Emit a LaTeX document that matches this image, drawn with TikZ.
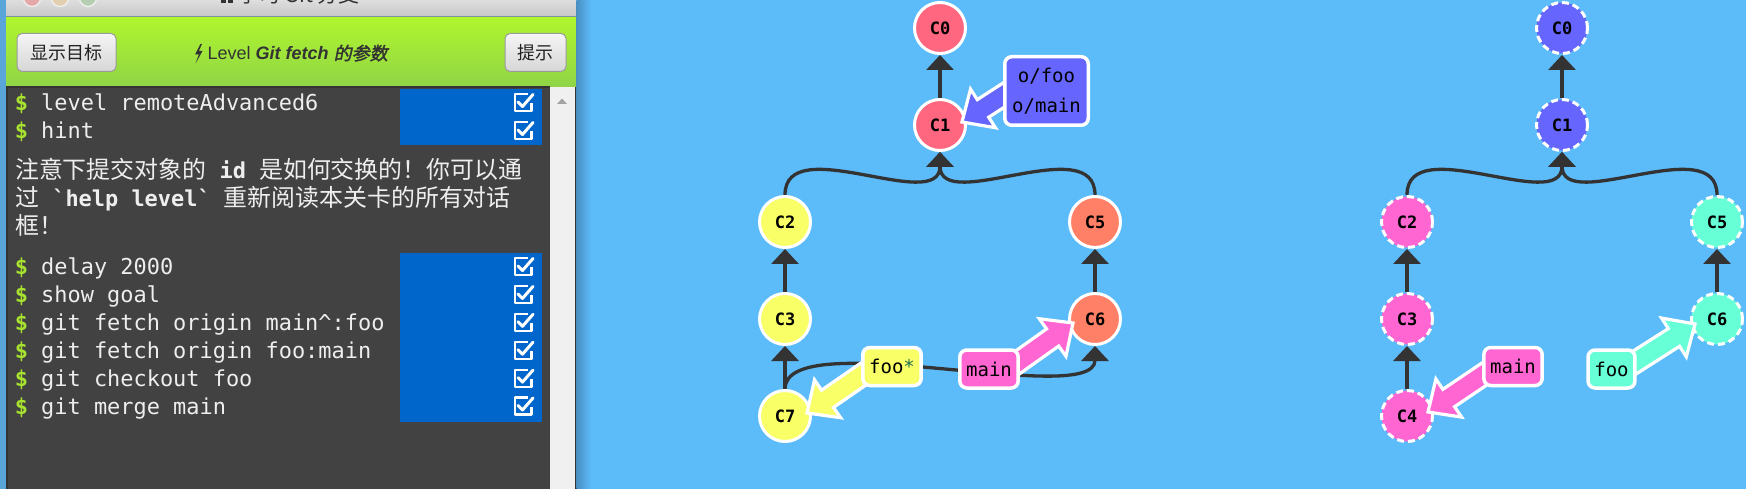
\documentclass[tikz,border=0pt]{standalone}
\usepackage{fontspec}
\setmainfont{Liberation Sans}
\setmonofont{DejaVu Sans Mono}
\newfontfamily\cjk{Noto Sans CJK SC}
\newfontfamily\cjkbi{Noto Sans CJK SC}[FakeSlant=0.2,FakeBold=2]
\usetikzlibrary{calc,arrows.meta}

\definecolor{bgblue}{HTML}{5CBBF9}
\definecolor{leftstrip}{HTML}{5AA5DA}
\definecolor{titletop}{HTML}{DEDEDE}
\definecolor{titlebot}{HTML}{C6C6C6}
\definecolor{titleline}{HTML}{7E919C}
\definecolor{titletext}{HTML}{333333}
\definecolor{tlred}{HTML}{E5A8A8}
\definecolor{tlyel}{HTML}{E2CFB0}
\definecolor{tlgrn}{HTML}{B5CFB0}
\definecolor{tlring}{HTML}{F2F2F2}
\definecolor{gtop}{HTML}{B0F62E}
\definecolor{gbot}{HTML}{8FD446}
\definecolor{console}{HTML}{424242}
\definecolor{consoleedge}{HTML}{333333}
\definecolor{scrollbg}{HTML}{F0F0F0}
\definecolor{scrollarrow}{HTML}{A3A3A3}
\definecolor{shadowL}{HTML}{4A90C2}
\definecolor{hl}{HTML}{0066CC}
\definecolor{dollar}{HTML}{A6E22E}
\definecolor{ctext}{HTML}{EEEEEE}
\definecolor{btnborder}{HTML}{9B9B9B}
\definecolor{btntop}{HTML}{F5F5F5}
\definecolor{btnbot}{HTML}{D6D6D6}
\definecolor{edgecol}{HTML}{333333}
\definecolor{cred}{HTML}{FF6680}
\definecolor{cyel}{HTML}{F9FF66}
\definecolor{csal}{HTML}{FF8066}
\definecolor{cblue}{HTML}{6666FF}
\definecolor{cpink}{HTML}{FF66D2}
\definecolor{caqua}{HTML}{66FFD6}
\definecolor{starcol}{HTML}{1E6E50}

\pgfdeclarelayer{bg}
\pgfdeclarelayer{edges}
\pgfdeclarelayer{arrows}
\pgfdeclarelayer{labels}
\pgfsetlayers{bg,edges,main,arrows,labels}

\tikzset{
  cline/.style={anchor=base west, inner sep=0pt, text=ctext,
    font=\ttfamily\fontsize{21.93}{26}\selectfont},
  btn/.style={draw=btnborder, line width=1pt, rounded corners=5pt,
    top color=btntop, bottom color=btnbot, minimum height=38pt, inner sep=0pt,
    text=black!87, font=\cjk\fontsize{18}{18}\selectfont},
  commit/.style={circle, minimum size=51pt, inner sep=0pt, line width=3pt,
    draw=white, text=black, font=\ttfamily\bfseries\fontsize{17}{17}\selectfont},
  goal/.style={commit, dash pattern=on 7pt off 4pt},
  edgeline/.style={draw=edgecol, line width=3.3pt,
    -{Triangle[width=27pt,length=15pt]}},
  blabelbase/.style={draw=white, line width=3.5pt, rounded corners=7pt,
    inner xsep=6.3pt, text=black, font=\ttfamily\fontsize{19}{30}\selectfont},
  blabel/.style={blabelbase, inner ysep=12pt, text height=14pt, text depth=0pt},
}

% fat branch arrow: #1 start coordinate, #2 tip coordinate, #3 fill colour
\newcommand\brarrow[3]{%
  \coordinate (#2-b) at ($(#2)!25pt!(#1)$);
  \draw[fill=#3, draw=white, line width=3.2pt, line join=miter]
    (#2) -- ($(#2-b)!23pt!90:(#1)$) -- ($(#2-b)!10.5pt!90:(#1)$)
    -- ($(#1)!10.5pt!-90:(#2-b)$) -- ($(#1)!10.5pt!90:(#2-b)$)
    -- ($(#2-b)!10.5pt!-90:(#1)$) -- ($(#2-b)!23pt!-90:(#1)$) -- cycle;
}
% check box icon at vertical centre #1
\newcommand\chkbox[1]{%
  \draw[white, line width=2.2pt, line join=round]
    (527.5,#1-8.5) -- (515,#1-8.5) -- (515,#1+8.5) -- (531.5,#1+8.5) -- (531.5,#1+1);
  \draw[white, line width=3pt, line cap=round, line join=round]
    (518,#1-0.5) -- (522.5,#1+4) -- (533,#1-8);
}

\begin{document}
\begin{tikzpicture}[x=1pt,y=-1pt]
\useasboundingbox (0,0) rectangle (1746,489);

% ---------------- left panel background ----------------
\begin{pgfonlayer}{bg}
  \fill[bgblue] (0,0) rectangle (1746,489);
  \fill[leftstrip] (0,0) rectangle (6,489);
  \shade[top color=titletop,bottom color=titlebot] (6,0) rectangle (576,17);
  \foreach \cx/\cc in {32/tlred,60/tlyel,88/tlgrn}
    \filldraw[fill=\cc, draw=tlring, line width=1.2pt] (\cx,-2) circle (8.5);
  \fill[titleline] (6,16.5) rectangle (576,17.5);
  \shade[top color=gtop,bottom color=gbot] (6,17.5) rectangle (576,87);
  \fill[console] (6,87) rectangle (550,489);
  \fill[consoleedge] (6,86.5) rectangle (550,88);
  \fill[consoleedge] (6,87) rectangle (7.5,489);
  \fill[scrollbg] (550,87) rectangle (575,489);
  \fill[consoleedge] (575,87) rectangle (576.5,489);
  \shade[left color=shadowL,right color=bgblue] (576.5,0) rectangle (591,489);
  \fill[hl] (400,89.5) rectangle (542,145.5);
  \fill[hl] (400,253.5) rectangle (542,421.5);
  \fill[scrollarrow] (557,104) -- (567,104) -- (562,98.5) -- cycle;
\end{pgfonlayer}

% window title (cut by the top edge, as in the reference)
\fill[titletext] (221,-6) rectangle (226,3);
\fill[titletext] (228,-6) rectangle (233,3);
\node[anchor=base west, inner sep=0pt, text=titletext,
  font=\cjk\fontsize{21}{21}\selectfont] (wintitle) at (238,3) {学习 Git 分支};

% toolbar
\node[btn, minimum width=99pt] (btngoal) at (66.5,52.5) {显示目标};
\node[btn, minimum width=61pt] (btnhint) at (535.5,52.5) {提示};
\fill[titletext] (200.5,44) -- (195,54.5) -- (198.8,54.5) -- (195.5,63.5)
  -- (202.5,51) -- (198.8,51) -- (202,44) -- cycle;
\node[anchor=base west, inner sep=0pt, text=titletext,
  font=\fontsize{18}{18}\selectfont] (lvltitle) at (207.5,60)
  {Level \textbf{\textit{Git fetch}} {\cjkbi 的参数}};

% console
\node[cline] (l1) at (14.6,111) {{\color{dollar}\bfseries\$} level remoteAdvanced6};
\node[cline] (l2) at (14.6,139) {{\color{dollar}\bfseries\$} hint};
\node[cline] (m1) at (15,179) {{\cjk\fontsize{23.9}{28}\selectfont 注意下提交对象的}{\bfseries\ id\ }{\cjk\fontsize{23.9}{28}\selectfont 是如何交换的！你可以通}};
\node[cline] (m2) at (15,207) {{\cjk\fontsize{23.9}{28}\selectfont 过}{\bfseries\ `help level`\ }{\cjk\fontsize{23.9}{28}\selectfont 重新阅读本关卡的所有对话}};
\node[cline] (m3) at (15,235) {{\cjk\fontsize{23.9}{28}\selectfont 框！}};
\node[cline] (l3) at (14.6,275) {{\color{dollar}\bfseries\$} delay 2000};
\node[cline] (l4) at (14.6,302.9) {{\color{dollar}\bfseries\$} show goal};
\node[cline] (l5) at (14.6,330.8) {{\color{dollar}\bfseries\$} git fetch origin main\textasciicircum:foo};
\node[cline] (l6) at (14.6,358.7) {{\color{dollar}\bfseries\$} git fetch origin foo:main};
\node[cline] (l7) at (14.6,386.6) {{\color{dollar}\bfseries\$} git checkout foo};
\node[cline] (l8) at (14.6,414.5) {{\color{dollar}\bfseries\$} git merge main};
\foreach \yy in {102.5,130.5,266.5,294.4,322.3,350.2,378.1,406} {\chkbox{\yy}}

% ---------------- left graph ----------------
\node[commit, fill=cred] (lc0) at (940,28) {C0};
\node[commit, fill=cred] (lc1) at (940,125) {C1};
\node[commit, fill=cyel] (lc2) at (785,222) {C2};
\node[commit, fill=cyel] (lc3) at (785,319) {C3};
\node[commit, fill=cyel] (lc7) at (785,416) {C7};
\node[commit, fill=csal] (lc5) at (1095,222) {C5};
\node[commit, fill=csal] (lc6) at (1095,319) {C6};

% ---------------- right graph (goal) ----------------
\node[goal, fill=cblue] (rc0) at (1562,28) {C0};
\node[goal, fill=cblue] (rc1) at (1562,125) {C1};
\node[goal, fill=cpink] (rc2) at (1407,222) {C2};
\node[goal, fill=cpink] (rc3) at (1407,319) {C3};
\node[goal, fill=cpink] (rc4) at (1407,416) {C4};
\node[goal, fill=caqua] (rc5) at (1717,222) {C5};
\node[goal, fill=caqua] (rc6) at (1717,319) {C6};

\begin{pgfonlayer}{labels}
  \node[blabelbase, fill=cblue, align=center, inner ysep=0pt,
    minimum width=83.5pt, minimum height=68.5pt] (lorigin) at (1046.5,91) {o/foo\\o/main};
  \node[blabel, fill=cyel] (lfoo) at (892,366.5) {foo\textcolor{starcol}{*}};
  \node[blabel, fill=cpink] (lmain) at (989,369) {main};
  \node[blabel, fill=cpink] (rmain) at (1513,366.5) {main};
  \node[blabel, fill=caqua] (rfoo) at (1611.5,369) {foo};
\end{pgfonlayer}

\begin{pgfonlayer}{edges}
  \draw[edgeline] (lc1.north) -- (lc0.south);
  \draw[edgeline] (lc2.north) .. controls +(0,-65) and +(0,63) .. (lc1.south);
  \draw[edgeline] (lc5.north) .. controls +(0,-65) and +(0,63) .. (lc1.south);
  \draw[edgeline] (lc3.north) -- (lc2.south);
  \draw[edgeline] (lc6.north) -- (lc5.south);
  \draw[edgeline] (lc7.north) -- (lc3.south);
  \draw[edgeline] (lc7.north) .. controls +(0,-65) and +(0,63) .. (lc6.south);
  \draw[edgeline] (rc1.north) -- (rc0.south);
  \draw[edgeline] (rc2.north) .. controls +(0,-65) and +(0,63) .. (rc1.south);
  \draw[edgeline] (rc5.north) .. controls +(0,-65) and +(0,63) .. (rc1.south);
  \draw[edgeline] (rc3.north) -- (rc2.south);
  \draw[edgeline] (rc4.north) -- (rc3.south);
  \draw[edgeline] (rc6.north) -- (rc5.south);
\end{pgfonlayer}

\begin{pgfonlayer}{arrows}
  \coordinate (sa) at ($(lorigin.west)+(7,0)$);
  \coordinate (ta) at ($(lc1)+(22,-3)$);
  \brarrow{sa}{ta}{cblue}
  \coordinate (sb) at ($(lfoo.west)+(6,5)$);
  \coordinate (tb) at ($(lc7)+(22,-3)$);
  \brarrow{sb}{tb}{cyel}
  \coordinate (sc) at ($(lmain.east)+(-6,-4)$);
  \coordinate (tc) at ($(lc6)+(-22,4)$);
  \brarrow{sc}{tc}{cpink}
  \coordinate (sd) at ($(rmain.west)+(6,5)$);
  \coordinate (td) at ($(rc4)+(21,-4)$);
  \brarrow{sd}{td}{cpink}
  \coordinate (se) at ($(rfoo.east)+(-6,-4)$);
  \coordinate (te) at ($(rc6)+(-22,5)$);
  \brarrow{se}{te}{caqua}
\end{pgfonlayer}
\end{tikzpicture}
\end{document}
